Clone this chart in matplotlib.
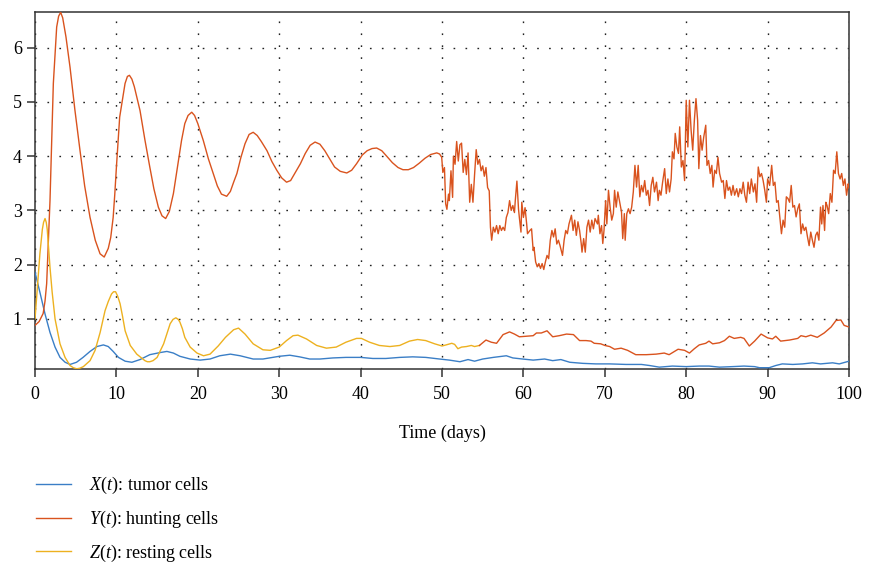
import numpy as np
import matplotlib
matplotlib.use("Agg")
import matplotlib.pyplot as plt

plt.rcParams['font.family'] = ['Liberation Serif', 'DejaVu Serif']
plt.rcParams['mathtext.fontset'] = 'custom'
plt.rcParams['mathtext.rm'] = 'Liberation Serif'
plt.rcParams['mathtext.it'] = 'Liberation Serif:italic'

# X(t): tumor cells
x_t = [0, 0.6, 1.23, 1.84, 2.46, 3.07, 3.7, 4.3, 5.1, 5.9, 6.76, 7.6, 8.4, 9.0, 9.6,
       10.25, 11.07, 11.9, 12.9, 14.1, 15.4, 16.2, 17.0, 17.8, 19.06, 20.3, 21.5, 22.7,
       24.0, 25.2, 26.8, 28.0, 30.0, 31.3, 32.5, 33.75, 35.0, 36.6, 38.2, 40.0, 41.5,
       43.1, 44.8, 46.4, 48.0, 49.7, 50.9, 52.2, 53.2, 54.0, 55.0, 56.3, 57.9, 58.7,
       59.9, 61.2, 62.6, 63.6, 64.6, 65.7, 67.3, 68.9, 70.6, 72.6, 74.5, 75.5, 76.7,
       78.3, 80.0, 81.6, 82.8, 84.1, 85.7, 87.1, 88.4, 89.0, 90.2, 91.0, 91.8, 93.1,
       94.3, 95.5, 96.5, 97.98, 98.8, 100]
x_v = [1.86, 1.49, 1.09, 0.75, 0.48, 0.29, 0.20, 0.16, 0.20, 0.29, 0.40, 0.49, 0.52, 0.49, 0.40,
       0.29, 0.22, 0.20, 0.25, 0.34, 0.38, 0.40, 0.37, 0.31, 0.26, 0.24, 0.26, 0.32,
       0.35, 0.32, 0.26, 0.26, 0.31, 0.33, 0.30, 0.26, 0.26, 0.28, 0.29, 0.29, 0.27,
       0.27, 0.29, 0.30, 0.29, 0.26, 0.24, 0.21, 0.25, 0.22, 0.26, 0.29, 0.32, 0.28,
       0.26, 0.24, 0.26, 0.23, 0.25, 0.20, 0.18, 0.17, 0.17, 0.16, 0.16, 0.14, 0.11,
       0.13, 0.12, 0.13, 0.13, 0.11, 0.12, 0.13, 0.12, 0.10, 0.10, 0.14, 0.17, 0.16,
       0.17, 0.19, 0.17, 0.19, 0.17, 0.22]

# Y(t): hunting cells
y_t = [0, 0.5, 1.0, 1.23, 1.43, 1.84, 2.25, 2.66, 2.9, 3.15, 3.4, 3.8, 4.3, 4.9, 5.53,
       6.1, 6.76, 7.4, 7.99, 8.5, 9.0, 9.3, 9.6, 9.8, 10.0, 10.4, 11.06, 11.35, 11.6,
       11.9, 12.2, 12.9, 13.5, 14.1, 14.6, 15.15, 15.6, 16.05, 16.5, 17.0, 17.5, 18.0,
       18.4, 18.8, 19.25, 19.6, 20.0, 20.67, 21.3, 21.9, 22.4, 22.9, 23.55, 24.0, 24.4,
       24.8, 25.3, 25.8, 26.3, 26.8, 27.3, 27.8, 28.5, 29.1, 29.7, 30.3, 30.9, 31.4,
       31.9, 32.6, 33.2, 33.8, 34.4, 35.0, 35.6, 36.2, 36.8, 37.5, 38.3, 38.9, 39.5,
       40.2, 40.8, 41.4, 41.97, 42.6, 43.2, 43.9, 44.6, 45.2, 45.86, 46.5, 47.2, 47.9,
       48.6, 49.35, 49.7, 49.96,
       50.1, 50.3, 50.45, 50.6, 50.8, 50.9, 51.1, 51.3, 51.4, 51.6, 51.8, 52.0, 52.2,
       52.4, 52.6, 52.8, 53.0, 53.2, 53.4, 53.6, 53.8, 54.0, 54.2, 54.4, 54.6, 54.8,
       55.0, 55.2, 55.4, 55.6, 55.8, 55.95, 56.1, 56.3, 56.5, 56.7, 56.9, 57.1, 57.3,
       57.5, 57.7, 57.9, 58.1, 58.3, 58.5, 58.7, 58.9, 59.0, 59.2, 59.4, 59.5, 59.7,
       59.8, 60.0, 60.2, 60.4, 60.5, 60.8, 61.0, 61.2, 61.3, 61.5, 61.7, 61.9, 62.1,
       62.3, 62.5, 62.7, 62.9, 63.1, 63.3, 63.5, 63.7, 63.9, 64.1, 64.3, 64.5, 64.8,
       65.0, 65.2, 65.4, 65.6,
       65.9, 66.1, 66.3, 66.5, 66.7, 66.9, 67.1, 67.2, 67.4, 67.6, 67.8, 68.0, 68.2,
       68.4, 68.6, 68.8, 69.1, 69.2, 69.4, 69.6, 69.75, 69.9, 70.1, 70.25, 70.45,
       70.65, 70.85, 71.05, 71.2, 71.4, 71.6, 71.8, 72.05, 72.2, 72.4, 72.5, 72.7,
       72.9, 73.1, 73.3, 73.5, 73.7, 73.9, 74.1, 74.3, 74.5, 74.7, 74.9, 75.1, 75.3,
       75.5, 75.7, 75.9, 76.1, 76.35, 76.55, 76.7, 76.9, 77.1, 77.35, 77.55, 77.75,
       77.95, 78.15,
       78.3, 78.5, 78.65, 78.85, 79.05, 79.2, 79.4, 79.6, 79.8, 80.0, 80.2, 80.4, 80.6,
       80.8, 81.0, 81.2, 81.4, 81.55, 81.75, 81.95, 82.15, 82.4, 82.55, 82.75, 82.95,
       83.15, 83.3, 83.5, 83.7, 83.9, 84.1, 84.35, 84.55, 84.75, 84.95, 85.15, 85.35,
       85.55, 85.75, 85.95, 86.2, 86.4, 86.6, 86.8, 87.0, 87.2, 87.4, 87.6, 87.8, 88.0,
       88.25, 88.45, 88.65, 88.85, 89.05, 89.25, 89.45, 89.65, 89.85, 90.0, 90.25,
       90.5, 90.7, 90.9, 91.1, 91.3, 91.5, 91.7, 91.9, 92.1, 92.3, 92.5, 92.7, 92.9,
       93.1, 93.3, 93.5, 93.7, 93.9, 94.1, 94.3, 94.5, 94.7, 94.9, 95.1, 95.3, 95.5,
       95.7, 95.9, 96.1, 96.3, 96.5, 96.65, 96.8, 97.0, 97.15, 97.3, 97.5, 97.7, 97.9,
       98.1, 98.3, 98.5, 98.7, 98.9, 99.1, 99.3, 99.5, 99.7, 99.9, 100]
y_v = [0.88, 0.95, 1.1, 1.33, 1.65, 3.18, 5.34, 6.38, 6.58, 6.65, 6.55, 6.2, 5.64, 4.85, 4.1,
       3.45, 2.87, 2.45, 2.2, 2.14, 2.3, 2.5, 2.87, 3.3, 3.8, 4.72, 5.34, 5.47, 5.49,
       5.42, 5.28, 4.84, 4.3, 3.8, 3.4, 3.06, 2.9, 2.85, 2.98, 3.31, 3.8, 4.29,
       4.6, 4.75, 4.81, 4.75, 4.6, 4.29, 3.95, 3.68, 3.45, 3.3, 3.26, 3.35, 3.52,
       3.68, 3.98, 4.23, 4.4, 4.44, 4.38, 4.27, 4.1, 3.9, 3.74, 3.6, 3.52, 3.55,
       3.68, 3.86, 4.05, 4.2, 4.26, 4.22, 4.1, 3.95, 3.8, 3.72, 3.69, 3.74, 3.86,
       4.02, 4.1, 4.14, 4.15, 4.1, 4.0, 3.88, 3.79, 3.75, 3.75, 3.79, 3.87, 3.96,
       4.03, 4.06, 4.04, 3.98,
       3.70, 3.79, 3.12, 3.02, 3.30, 3.18, 3.73, 3.24, 4.00, 3.85, 4.27, 3.91, 4.21,
       4.24, 3.70, 3.94, 3.66, 4.06, 3.15, 3.48, 3.15, 3.66, 4.12, 3.85, 3.94, 3.73,
       3.82, 3.63, 3.79, 3.42, 3.36, 2.69, 2.45, 2.69, 2.60, 2.72, 2.57, 2.72, 2.63,
       2.69, 2.63, 2.87, 2.96, 3.18, 3.00, 3.09, 2.96, 3.18, 3.54, 3.02, 2.87, 2.60,
       3.15, 2.87, 3.05, 2.75, 2.57, 2.63, 2.66, 2.26, 2.32, 2.05, 1.96, 2.02, 1.93,
       2.02, 1.91, 2.05, 2.17, 2.11, 2.45, 2.63, 2.51, 2.66, 2.38, 2.45, 2.35, 2.17,
       2.45, 2.63, 2.57, 2.75,
       2.91, 2.63, 2.82, 2.54, 2.79, 2.63, 2.39, 2.23, 2.48, 2.23, 2.69, 2.82, 2.60,
       2.82, 2.66, 2.85, 2.75, 2.91, 2.57, 2.72, 2.39, 2.63, 3.18, 2.75, 3.37,
       3.06, 2.82, 2.94, 3.37, 3.06, 3.34, 3.18, 2.97, 2.48, 2.94, 2.45, 2.94,
       3.03, 2.94, 3.06, 3.34, 3.83, 3.43, 3.83, 3.25, 3.46, 3.34, 3.55, 3.28, 3.37,
       3.09, 3.46, 3.61, 3.34, 3.52, 3.18, 3.37, 3.28, 3.52, 3.77, 3.31, 3.58,
       3.34, 3.58,
       4.08, 3.95, 4.42, 4.17, 4.05, 4.54, 3.80, 3.92, 3.55, 5.03, 4.17, 5.03, 4.48,
       4.11, 4.66, 5.06, 4.66, 3.77, 4.38, 4.11, 4.35, 4.57, 3.83, 3.92, 3.68,
       3.83, 3.43, 3.74, 3.68, 3.98, 3.68, 3.52, 3.55, 3.22, 3.55, 3.37, 3.43,
       3.28, 3.46, 3.28, 3.40, 3.25, 3.40, 3.31, 3.52, 3.28, 3.15, 3.52, 3.31, 3.58,
       3.34, 3.49, 3.15, 3.80, 3.62, 3.68, 3.55, 3.37, 3.15, 3.58, 3.46,
       3.83, 3.46, 3.52, 3.15, 3.18, 2.88, 2.57, 2.82, 2.69, 3.25, 3.22, 3.15, 3.46,
       3.06, 3.09, 2.88, 3.03, 3.12, 2.57, 2.75, 2.63, 2.69, 2.51, 2.35, 2.60, 2.45,
       2.32, 2.54, 2.60, 2.45, 3.06, 2.75, 3.09, 2.63, 3.15, 3.09, 2.94, 3.31, 3.15,
       3.74, 3.68, 4.08, 3.68, 3.58, 3.68, 3.46, 3.58, 3.28, 3.49, 3.42]

# Z(t): resting cells (drawn in the hunting-cell colour after z_switch)
z_t = [0, 0.3, 0.6, 0.9, 1.05, 1.23, 1.38, 1.5, 1.84, 2.1, 2.46, 3.07, 3.69, 4.3, 4.7,
       5.12, 5.5, 5.94, 6.76, 7.38, 8.0, 8.6, 9.0, 9.4, 9.65, 9.9, 10.15, 10.45, 10.75,
       11.07, 11.7, 12.5, 13.5, 13.8, 14.1, 14.5, 15.0, 15.8, 16.6, 16.95, 17.3, 17.6,
       17.8, 18.1, 18.4, 19.06, 19.9, 20.7, 21.5, 22.5, 23.4, 24.4, 25.0, 25.8, 26.8,
       28.0, 28.9, 30.0, 30.9, 31.7, 32.3, 33.35, 34.6, 35.8, 37.0, 38.2, 39.5, 40.1,
       41.1, 42.3, 43.6, 44.8, 46.0, 47.0, 48.0, 49.1, 50.0, 50.5, 51.2, 51.55, 51.95,
       52.4, 53.0, 53.6, 54.0, 54.6, 55.4, 56.05, 56.7, 57.5, 58.3, 58.9, 59.5, 60.35,
       61.2, 61.6, 62.2, 62.9, 63.6, 64.4, 65.3, 66.15, 66.9, 67.7, 68.3, 68.7, 69.5,
       70.0, 70.6, 71.2, 72.0, 72.8, 73.8, 75.1, 76.3, 77.3, 77.9, 79.0, 79.8, 80.4,
       81.0, 81.6, 82.4, 82.8, 83.25, 84.1, 84.7, 85.3, 85.9, 86.7, 87.1, 87.75, 88.4,
       89.2, 90.0, 90.6, 91.0, 91.6, 92.7, 93.7, 94.1, 94.7, 95.3, 96.1, 96.95, 97.8,
       98.4, 99.0, 99.4, 100]
z_v = [1.0, 1.6, 2.2, 2.65, 2.78, 2.85, 2.78, 2.65, 1.95, 1.5, 1.0, 0.54, 0.29, 0.14, 0.10,
       0.08, 0.09, 0.12, 0.23, 0.42, 0.75, 1.15, 1.32, 1.46, 1.50, 1.50, 1.42, 1.28, 1.05,
       0.78, 0.51, 0.35, 0.23, 0.21, 0.21, 0.23, 0.29, 0.54, 0.91, 0.99, 1.02, 0.99,
       0.94, 0.82, 0.66, 0.48, 0.37, 0.32, 0.35, 0.50, 0.66, 0.80, 0.83, 0.72, 0.54,
       0.43, 0.42, 0.48, 0.60, 0.69, 0.70, 0.63, 0.51, 0.46, 0.48, 0.57, 0.64, 0.64,
       0.57, 0.51, 0.49, 0.51, 0.59, 0.62, 0.60, 0.54, 0.50, 0.52, 0.55, 0.53, 0.45,
       0.48, 0.49, 0.51, 0.49, 0.51, 0.61, 0.57, 0.55, 0.71, 0.76, 0.72, 0.67, 0.68,
       0.69, 0.74, 0.74, 0.78, 0.67, 0.69, 0.72, 0.71, 0.60, 0.60, 0.59, 0.55, 0.54,
       0.51, 0.49, 0.44, 0.46, 0.42, 0.34, 0.34, 0.35, 0.37, 0.34, 0.44, 0.42, 0.37,
       0.45, 0.52, 0.55, 0.59, 0.54, 0.56, 0.60, 0.68, 0.64, 0.66, 0.64, 0.50, 0.59,
       0.72, 0.65, 0.63, 0.68, 0.59, 0.61, 0.64, 0.69, 0.67, 0.70, 0.66, 0.74, 0.85,
       0.97, 0.98, 0.88, 0.85]
z_switch = 54.6

c_x = '#3a7ec6'
c_y = '#d9531e'
c_z = '#edb120'

fig = plt.figure(figsize=(8.69, 5.65), dpi=100)
ax = fig.add_axes([0.0403, 0.347, 0.9367, 0.632])

z_t = np.array(z_t)
z_v = np.array(z_v)
early = z_t <= z_switch
late = z_t >= z_switch

ax.plot(x_t, x_v, color=c_x, lw=1.0, label=r'$X(t)$: tumor cells', zorder=3)
ax.plot(y_t, y_v, color=c_y, lw=1.0, label=r'$Y(t)$: hunting cells', zorder=3)
ax.plot(z_t[early], z_v[early], color=c_z, lw=1.0, label=r'$Z(t)$: resting cells', zorder=3)
ax.plot(z_t[late], z_v[late], color=c_y, lw=1.0, zorder=3)

ax.set_xlim(0, 100)
ax.set_ylim(0.077, 6.66)
ax.set_xticks(np.arange(0, 101, 10))
ax.set_yticks([1, 2, 3, 4, 5, 6])
ax.tick_params(axis='both', direction='out', length=6, width=1.1, labelsize=13,
               color='#333333')
ax.tick_params(axis='x', pad=6)
ax.grid(True, color='#222222', linestyle=(0, (1.2, 7.4)), linewidth=1.0)
for s in ax.spines.values():
    s.set_color('#333333')
    s.set_linewidth(1.1)

ax.set_xlabel('Time (days)', fontsize=13, labelpad=16)

fig.legend(loc='upper left', bbox_to_anchor=(0.0328, 0.1717), frameon=False,
           fontsize=13, handlelength=1.95, handletextpad=1.0, labelspacing=0.7,
           borderaxespad=0)

fig.savefig('out.png', dpi=100)
